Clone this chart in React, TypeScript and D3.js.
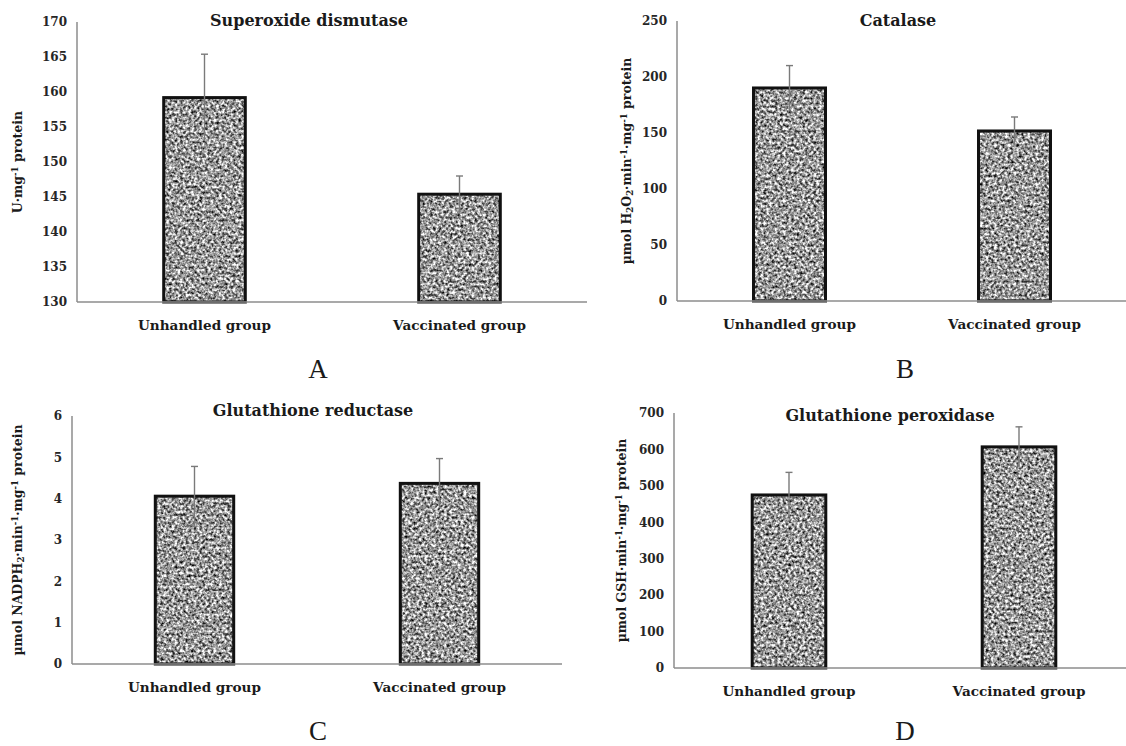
import React from 'react'
import * as d3 from 'd3'

// values
const groups = ['Unhandled group', 'Vaccinated group']

const sodMeans = [159.2, 145.4]
const sodErr = [6.2, 2.6]
const sodTicks = [130, 135, 140, 145, 150, 155, 160, 165, 170]

const catMeans = [190.2, 151.8]
const catErr = [20, 12.5]
const catTicks = [0, 50, 100, 150, 200, 250]

const grMeans = [4.06, 4.37]
const grErr = [0.72, 0.6]
const grTicks = [0, 1, 2, 3, 4, 5, 6]

const gpxMeans = [475, 607]
const gpxErr = [62, 55]
const gpxTicks = [0, 100, 200, 300, 400, 500, 600, 700]

const boldSerif = "'DejaVu Serif', serif"
const plainSerif = "'Liberation Serif', 'Times New Roman', serif"

type Seg = { t: string; s?: 'sub' | 'sup' }

function Panel(props: any) {
  const { means, errs, ticks, x0, x1, yTop, yBot, title, titleX, titleY, yLabel, yLabelX, letter, letterX, letterY } = props

  const x = d3.scaleBand().domain(groups).range([x0, x1]).paddingInner(0.68).paddingOuter(0.34)
  const y = d3.scaleLinear().domain([ticks[0], ticks[ticks.length - 1]]).range([yBot, yTop])
  const yMid = (yTop + yBot) / 2

  return (
    <g>
      <text x={titleX} y={titleY} textAnchor="middle" fontFamily={boldSerif} fontWeight="bold" fontSize={16} fill="#1a1a1a">{title}</text>

      {/* y axis labels */}
      {ticks.map((t: number) => (
        <text key={t} x={x0 - 10} y={y(t)} dy="0.36em" textAnchor="end" fontFamily={boldSerif} fontWeight="bold" fontSize={12} fill="#262626">{t}</text>
      ))}
      <text transform={`translate(${yLabelX},${yMid}) rotate(-90)`} textAnchor="middle" dy="0.35em" fontFamily={boldSerif} fontWeight="bold" fontSize={12.5} fill="#1a1a1a">
        {yLabel.map((sg: Seg, i: number) =>
          sg.s ? (
            <tspan key={i} fontSize={8.5} baselineShift={sg.s === 'sup' ? '50%' : '-25%'}>{sg.t}</tspan>
          ) : (
            <tspan key={i}>{sg.t}</tspan>
          )
        )}
      </text>

      {/* bars */}
      {groups.map((g, i) => {
        const bx = x(g) as number
        const bw = x.bandwidth()
        const top = y(means[i])
        return (
          <g key={g}>
            <rect x={bx} y={top} width={bw} height={yBot - top} fill="#999" filter="url(#speckle)" />
            <rect x={bx} y={top} width={bw} height={yBot - top} fill="none" stroke="#111" strokeWidth={3} />
          </g>
        )
      })}

      {/* error bars */}
      {groups.map((g, i) => {
        const cx = (x(g) as number) + x.bandwidth() / 2
        const hi = y(means[i] + errs[i])
        const lo = y(means[i] - errs[i])
        return (
          <g key={g} stroke="#7a7a7a" strokeWidth={1.4}>
            <line x1={cx} x2={cx} y1={hi} y2={lo} />
            <line x1={cx - 3.5} x2={cx + 3.5} y1={hi} y2={hi} />
          </g>
        )
      })}

      {/* axes lines */}
      <line x1={x0} x2={x0} y1={yTop} y2={yBot} stroke="#8c8c8c" strokeWidth={1.5} />
      <line x1={x0} x2={x1} y1={yBot} y2={yBot} stroke="#8c8c8c" strokeWidth={1.5} />

      {groups.map((g) => (
        <text key={g} x={(x(g) as number) + x.bandwidth() / 2} y={yBot + 28} textAnchor="middle" fontFamily={boldSerif} fontWeight="bold" fontSize={13.6} fill="#1a1a1a">{g}</text>
      ))}

      <text x={letterX} y={letterY} textAnchor="middle" fontFamily={plainSerif} fontSize={27} fill="#1a1a1a">{letter}</text>
    </g>
  )
}

export default function App() {
  return (
    <svg width={1126} height={746} style={{ position: 'absolute', left: 0, top: 0, background: '#fff' }}>
      <defs>
        <filter id="speckle" x="0" y="0" width="100%" height="100%" colorInterpolationFilters="sRGB">
          <feTurbulence type="fractalNoise" baseFrequency="0.36" numOctaves={2} seed={7} result="n" />
          <feColorMatrix in="n" type="matrix"
            values="1.8 0 0 0 -0.3  1.8 0 0 0 -0.3  1.8 0 0 0 -0.3  0 0 0 0 1" />
        </filter>
      </defs>

      <Panel means={sodMeans} errs={sodErr} ticks={sodTicks} x0={77} x1={587} yTop={22} yBot={302}
        title="Superoxide dismutase" titleX={309} titleY={26}
        yLabel={[{ t: 'U·mg' }, { t: '-1', s: 'sup' }, { t: ' protein' }]} yLabelX={18}
        letter="A" letterX={318} letterY={378} />

      <Panel means={catMeans} errs={catErr} ticks={catTicks} x0={677} x1={1127} yTop={21} yBot={301}
        title="Catalase" titleX={898} titleY={26}
        yLabel={[{ t: 'µmol H' }, { t: '2', s: 'sub' }, { t: 'O' }, { t: '2', s: 'sub' }, { t: '·min' }, { t: '-1', s: 'sup' }, { t: '·mg' }, { t: '-1', s: 'sup' }, { t: ' protein' }]} yLabelX={627}
        letter="B" letterX={905} letterY={378} />

      <Panel means={grMeans} errs={grErr} ticks={grTicks} x0={72} x1={562} yTop={416} yBot={664}
        title="Glutathione reductase" titleX={313} titleY={416}
        yLabel={[{ t: 'µmol NADPH' }, { t: '2', s: 'sub' }, { t: '·min' }, { t: '-1', s: 'sup' }, { t: '·mg' }, { t: '-1', s: 'sup' }, { t: ' protein' }]} yLabelX={18}
        letter="C" letterX={318} letterY={740} />

      <Panel means={gpxMeans} errs={gpxErr} ticks={gpxTicks} x0={674} x1={1134} yTop={413} yBot={668}
        title="Glutathione peroxidase" titleX={890} titleY={421}
        yLabel={[{ t: 'µmol GSH·min' }, { t: '-1', s: 'sup' }, { t: '·mg' }, { t: '-1', s: 'sup' }, { t: ' protein' }]} yLabelX={622}
        letter="D" letterX={905} letterY={740} />
    </svg>
  )
}
